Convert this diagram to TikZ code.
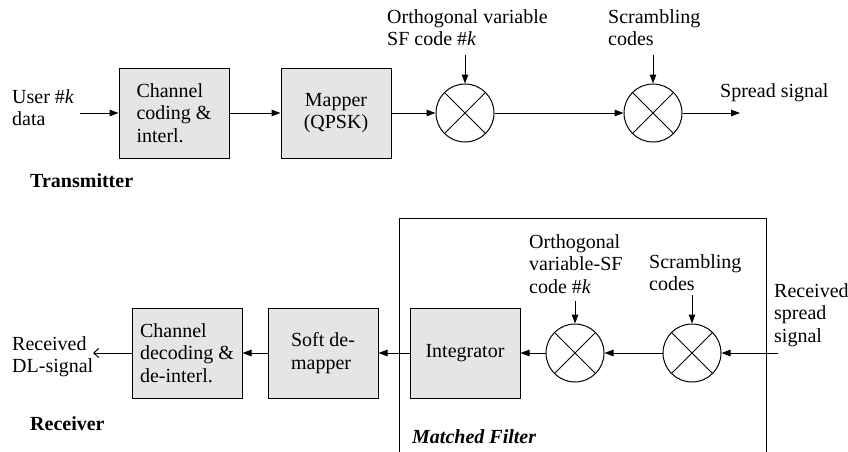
\documentclass[tikz,border=0pt]{standalone}
\usepackage{fontspec}
\setmainfont{Liberation Serif}
\usetikzlibrary{arrows.meta}
\begin{document}
\begin{tikzpicture}[x=1pt,y=-1pt,
  font=\fontsize{20}{22.5}\selectfont,
  blk/.style={draw, line width=1pt, fill=black!10, minimum width=110pt,
    minimum height=90pt, inner sep=0pt, align=left},
  mix/.style={draw, line width=1pt, circle, minimum size=58pt, inner sep=0pt,
    path picture={\draw[line width=1pt]
      (path picture bounding box.north west) -- (path picture bounding box.south east)
      (path picture bounding box.north east) -- (path picture bounding box.south west);}},
  sig/.style={line width=1pt, -{Triangle[length=9pt,width=6.5pt]}},
  outsig/.style={line width=1pt, -{Straight Barb[length=5pt,width=9pt]}},
  lbl/.style={inner sep=0pt, align=left, anchor=north west},
  tag/.style={inner sep=0pt, anchor=base west},
]
\useasboundingbox (0,0) rectangle (848,452);

% ---------------- transmitter ----------------
\node[blk] (cc) at (174,113) {Channel\\coding \&\\interl.};
\node[blk, align=center] (map) at (336,113) {Mapper\\(QPSK)};
\node[mix] (m1) at (465,113) {};
\node[mix] (m2) at (653,113) {};

\node[lbl] (user) at (12,89) {User \#\textit{k}\\data};
\node[lbl] (ovsf1) at (387,9) {Orthogonal variable\\SF code \#\textit{k}};
\node[lbl] (scr1) at (608,9) {Scrambling\\codes};
\node[tag] (spread) at (720,97) {Spread signal};
\node[tag, font=\fontsize{20}{22.5}\selectfont\bfseries] (tx) at (30,187) {Transmitter};

\coordinate (uin) at (80,113);
\coordinate (c1) at (465,55);
\coordinate (c2) at (653,55);
\coordinate (sout) at (740,113);

\draw[sig] (uin) -- (cc.west);
\draw[sig] (cc.east) -- (map.west);
\draw[sig] (map.east) -- (m1.west);
\draw[sig] (m1.east) -- (m2.west);
\draw[sig] (m2.east) -- (sout);
\draw[sig] (c1) -- (m1.north);
\draw[sig] (c2) -- (m2.north);

% ---------------- receiver ----------------
\draw[line width=1pt] (399,452) -- (399,218) -- (766,218) -- (766,452);

\node[blk] (cd) at (187,353) {Channel\\decoding \&\\de-interl.};
\node[blk] (sdm) at (323,353) {Soft de-\\mapper};
\node[blk, align=center] (int) at (465,353) {Integrator};
\node[mix] (m3) at (575,353) {};
\node[mix] (m4) at (692,353) {};

\node[lbl] (dl) at (12,336) {Received\\DL-signal};
\node[lbl] (ovsf2) at (529,234) {Orthogonal\\variable-SF\\code \#\textit{k}};
\node[lbl] (scr2) at (649,254) {Scrambling\\codes};
\node[lbl] (rss) at (774,283) {Received\\spread\\signal};
\node[tag, font=\fontsize{20}{22.5}\selectfont\bfseries] (rx) at (30,430) {Receiver};
\node[tag, font=\fontsize{20}{22.5}\selectfont\bfseries\itshape] (mf) at (412,443) {Matched Filter};

\coordinate (rin) at (778,353);
\coordinate (c3) at (575,301);
\coordinate (c4) at (692,295);
\coordinate (dlout) at (93,353);

\draw[sig] (rin) -- (m4.east);
\draw[sig] (m4.west) -- (m3.east);
\draw[sig] (m3.west) -- (int.east);
\draw[sig] (int.west) -- (sdm.east);
\draw[sig] (sdm.west) -- (cd.east);
\draw[outsig] (cd.west) -- (dlout);
\draw[sig] (c3) -- (m3.north);
\draw[sig] (c4) -- (m4.north);
\end{tikzpicture}
\end{document}
